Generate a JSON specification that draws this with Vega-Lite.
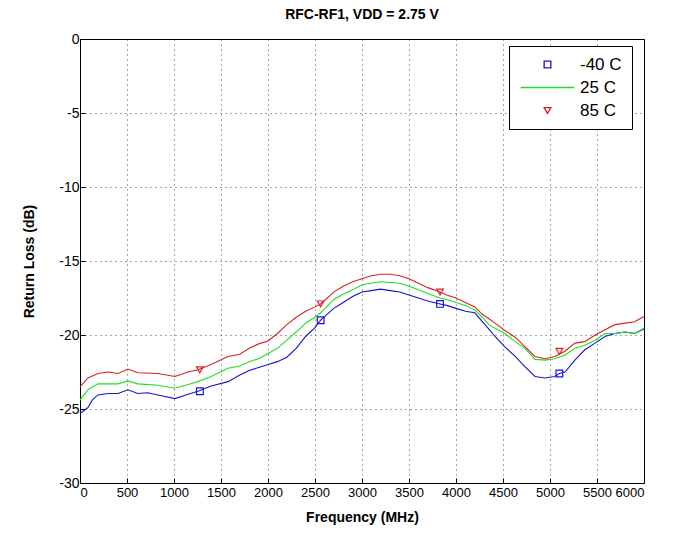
{
  "$schema": "https://vega.github.io/schema/vega-lite/v6.json",
  "width": 564,
  "height": 444,
  "autosize": "none",
  "padding": {"left": 80, "top": 39, "right": 38, "bottom": 55},
  "background": "white",
  "title": {"text": "RFC-RF1, VDD = 2.75 V", "font": "Liberation Sans", "fontSize": 14, "fontWeight": "bold", "color": "#000", "offset": 10},
  "config": {
    "view": {"stroke": "#000", "strokeWidth": 1},
    "axis": {
      "labelFont": "Liberation Sans", "labelFontSize": 14, "labelColor": "#000",
      "titleFont": "Liberation Sans", "titleFontSize": 14, "titleFontWeight": "bold", "titleColor": "#000",
      "grid": true, "gridColor": "#000", "gridDash": [1, 4], "gridOpacity": 0.7, "gridWidth": 1,
      "domain": false, "tickColor": "#000", "tickSize": -5, "labelPadding": 6, "labelOverlap": false
    },
    "legend": {
      "orient": "none", "legendX": 429, "legendY": 7, "strokeColor": "#000", "fillColor": "white",
      "padding": 10, "labelFont": "Liberation Sans", "labelFontSize": 17, "labelColor": "#000",
      "rowPadding": 5, "symbolOffset": 20, "labelOffset": 24, "title": null, "symbolStrokeWidth": 1.3, "symbolSize": 45
    }
  },
  "datasets": {
    "curves": [
      {"s": "-40 C", "f": 0, "rl": -25.3}, {"s": "-40 C", "f": 85, "rl": -24.9}, {"s": "-40 C", "f": 130, "rl": -24.4}, {"s": "-40 C", "f": 190, "rl": -24.05}, {"s": "-40 C", "f": 300, "rl": -23.95}, {"s": "-40 C", "f": 405, "rl": -23.95}, {"s": "-40 C", "f": 510, "rl": -23.7}, {"s": "-40 C", "f": 615, "rl": -23.95}, {"s": "-40 C", "f": 720, "rl": -23.9}, {"s": "-40 C", "f": 830, "rl": -24.05}, {"s": "-40 C", "f": 1010, "rl": -24.3}, {"s": "-40 C", "f": 1150, "rl": -24.0}, {"s": "-40 C", "f": 1255, "rl": -23.8}, {"s": "-40 C", "f": 1395, "rl": -23.45}, {"s": "-40 C", "f": 1575, "rl": -23.15}, {"s": "-40 C", "f": 1700, "rl": -22.7}, {"s": "-40 C", "f": 1800, "rl": -22.4}, {"s": "-40 C", "f": 1900, "rl": -22.2}, {"s": "-40 C", "f": 2000, "rl": -22.0}, {"s": "-40 C", "f": 2100, "rl": -21.8}, {"s": "-40 C", "f": 2200, "rl": -21.5}, {"s": "-40 C", "f": 2300, "rl": -20.9}, {"s": "-40 C", "f": 2400, "rl": -20.1}, {"s": "-40 C", "f": 2500, "rl": -19.5}, {"s": "-40 C", "f": 2560, "rl": -19.0}, {"s": "-40 C", "f": 2700, "rl": -18.2}, {"s": "-40 C", "f": 2800, "rl": -17.8}, {"s": "-40 C", "f": 2900, "rl": -17.4}, {"s": "-40 C", "f": 3000, "rl": -17.1}, {"s": "-40 C", "f": 3100, "rl": -17.0}, {"s": "-40 C", "f": 3200, "rl": -16.9}, {"s": "-40 C", "f": 3300, "rl": -17.0}, {"s": "-40 C", "f": 3400, "rl": -17.1}, {"s": "-40 C", "f": 3500, "rl": -17.3}, {"s": "-40 C", "f": 3600, "rl": -17.5}, {"s": "-40 C", "f": 3700, "rl": -17.7}, {"s": "-40 C", "f": 3830, "rl": -17.9}, {"s": "-40 C", "f": 3900, "rl": -18.0}, {"s": "-40 C", "f": 4000, "rl": -18.2}, {"s": "-40 C", "f": 4100, "rl": -18.4}, {"s": "-40 C", "f": 4200, "rl": -18.5}, {"s": "-40 C", "f": 4280, "rl": -19.1}, {"s": "-40 C", "f": 4350, "rl": -19.6}, {"s": "-40 C", "f": 4415, "rl": -20.1}, {"s": "-40 C", "f": 4520, "rl": -20.8}, {"s": "-40 C", "f": 4630, "rl": -21.45}, {"s": "-40 C", "f": 4735, "rl": -22.15}, {"s": "-40 C", "f": 4840, "rl": -22.8}, {"s": "-40 C", "f": 4945, "rl": -22.9}, {"s": "-40 C", "f": 5050, "rl": -22.8}, {"s": "-40 C", "f": 5100, "rl": -22.6}, {"s": "-40 C", "f": 5160, "rl": -22.5}, {"s": "-40 C", "f": 5265, "rl": -21.7}, {"s": "-40 C", "f": 5370, "rl": -21.0}, {"s": "-40 C", "f": 5480, "rl": -20.55}, {"s": "-40 C", "f": 5585, "rl": -20.1}, {"s": "-40 C", "f": 5690, "rl": -19.9}, {"s": "-40 C", "f": 5800, "rl": -19.8}, {"s": "-40 C", "f": 5900, "rl": -19.9}, {"s": "-40 C", "f": 6000, "rl": -19.6},
      {"s": "25 C", "f": 0, "rl": -24.4}, {"s": "25 C", "f": 85, "rl": -23.7}, {"s": "25 C", "f": 190, "rl": -23.3}, {"s": "25 C", "f": 300, "rl": -23.3}, {"s": "25 C", "f": 405, "rl": -23.3}, {"s": "25 C", "f": 510, "rl": -23.1}, {"s": "25 C", "f": 615, "rl": -23.3}, {"s": "25 C", "f": 830, "rl": -23.4}, {"s": "25 C", "f": 1010, "rl": -23.6}, {"s": "25 C", "f": 1150, "rl": -23.35}, {"s": "25 C", "f": 1255, "rl": -23.15}, {"s": "25 C", "f": 1395, "rl": -22.8}, {"s": "25 C", "f": 1575, "rl": -22.25}, {"s": "25 C", "f": 1700, "rl": -22.1}, {"s": "25 C", "f": 1800, "rl": -21.8}, {"s": "25 C", "f": 1900, "rl": -21.6}, {"s": "25 C", "f": 2000, "rl": -21.25}, {"s": "25 C", "f": 2100, "rl": -20.9}, {"s": "25 C", "f": 2200, "rl": -20.35}, {"s": "25 C", "f": 2300, "rl": -19.8}, {"s": "25 C", "f": 2400, "rl": -19.2}, {"s": "25 C", "f": 2500, "rl": -18.8}, {"s": "25 C", "f": 2560, "rl": -18.5}, {"s": "25 C", "f": 2700, "rl": -17.6}, {"s": "25 C", "f": 2800, "rl": -17.25}, {"s": "25 C", "f": 2900, "rl": -16.95}, {"s": "25 C", "f": 3000, "rl": -16.6}, {"s": "25 C", "f": 3100, "rl": -16.5}, {"s": "25 C", "f": 3200, "rl": -16.4}, {"s": "25 C", "f": 3300, "rl": -16.45}, {"s": "25 C", "f": 3400, "rl": -16.5}, {"s": "25 C", "f": 3500, "rl": -16.7}, {"s": "25 C", "f": 3600, "rl": -16.95}, {"s": "25 C", "f": 3700, "rl": -17.2}, {"s": "25 C", "f": 3830, "rl": -17.5}, {"s": "25 C", "f": 3900, "rl": -17.6}, {"s": "25 C", "f": 4000, "rl": -17.8}, {"s": "25 C", "f": 4100, "rl": -18.0}, {"s": "25 C", "f": 4200, "rl": -18.3}, {"s": "25 C", "f": 4280, "rl": -18.8}, {"s": "25 C", "f": 4350, "rl": -19.3}, {"s": "25 C", "f": 4415, "rl": -19.55}, {"s": "25 C", "f": 4520, "rl": -19.9}, {"s": "25 C", "f": 4630, "rl": -20.45}, {"s": "25 C", "f": 4735, "rl": -20.9}, {"s": "25 C", "f": 4840, "rl": -21.65}, {"s": "25 C", "f": 4945, "rl": -21.7}, {"s": "25 C", "f": 5050, "rl": -21.6}, {"s": "25 C", "f": 5160, "rl": -21.35}, {"s": "25 C", "f": 5265, "rl": -20.9}, {"s": "25 C", "f": 5370, "rl": -20.7}, {"s": "25 C", "f": 5480, "rl": -20.35}, {"s": "25 C", "f": 5585, "rl": -19.9}, {"s": "25 C", "f": 5690, "rl": -19.9}, {"s": "25 C", "f": 5800, "rl": -19.8}, {"s": "25 C", "f": 5900, "rl": -19.9}, {"s": "25 C", "f": 6000, "rl": -19.55},
      {"s": "85 C", "f": 0, "rl": -23.5}, {"s": "85 C", "f": 85, "rl": -22.9}, {"s": "85 C", "f": 190, "rl": -22.6}, {"s": "85 C", "f": 300, "rl": -22.5}, {"s": "85 C", "f": 405, "rl": -22.6}, {"s": "85 C", "f": 510, "rl": -22.3}, {"s": "85 C", "f": 615, "rl": -22.55}, {"s": "85 C", "f": 830, "rl": -22.6}, {"s": "85 C", "f": 1010, "rl": -22.8}, {"s": "85 C", "f": 1150, "rl": -22.5}, {"s": "85 C", "f": 1255, "rl": -22.35}, {"s": "85 C", "f": 1395, "rl": -22.0}, {"s": "85 C", "f": 1575, "rl": -21.45}, {"s": "85 C", "f": 1700, "rl": -21.3}, {"s": "85 C", "f": 1800, "rl": -20.9}, {"s": "85 C", "f": 1900, "rl": -20.6}, {"s": "85 C", "f": 2000, "rl": -20.4}, {"s": "85 C", "f": 2100, "rl": -19.9}, {"s": "85 C", "f": 2200, "rl": -19.3}, {"s": "85 C", "f": 2300, "rl": -18.8}, {"s": "85 C", "f": 2400, "rl": -18.4}, {"s": "85 C", "f": 2500, "rl": -18.1}, {"s": "85 C", "f": 2560, "rl": -17.9}, {"s": "85 C", "f": 2700, "rl": -17.1}, {"s": "85 C", "f": 2800, "rl": -16.7}, {"s": "85 C", "f": 2900, "rl": -16.4}, {"s": "85 C", "f": 3000, "rl": -16.2}, {"s": "85 C", "f": 3100, "rl": -16.0}, {"s": "85 C", "f": 3200, "rl": -15.9}, {"s": "85 C", "f": 3300, "rl": -15.9}, {"s": "85 C", "f": 3400, "rl": -16.0}, {"s": "85 C", "f": 3500, "rl": -16.2}, {"s": "85 C", "f": 3600, "rl": -16.5}, {"s": "85 C", "f": 3700, "rl": -16.8}, {"s": "85 C", "f": 3830, "rl": -17.1}, {"s": "85 C", "f": 3900, "rl": -17.3}, {"s": "85 C", "f": 4000, "rl": -17.5}, {"s": "85 C", "f": 4100, "rl": -17.8}, {"s": "85 C", "f": 4200, "rl": -18.1}, {"s": "85 C", "f": 4280, "rl": -18.6}, {"s": "85 C", "f": 4350, "rl": -18.9}, {"s": "85 C", "f": 4415, "rl": -19.2}, {"s": "85 C", "f": 4520, "rl": -19.7}, {"s": "85 C", "f": 4630, "rl": -20.15}, {"s": "85 C", "f": 4735, "rl": -20.8}, {"s": "85 C", "f": 4840, "rl": -21.45}, {"s": "85 C", "f": 4945, "rl": -21.6}, {"s": "85 C", "f": 5050, "rl": -21.45}, {"s": "85 C", "f": 5160, "rl": -21.1}, {"s": "85 C", "f": 5265, "rl": -20.55}, {"s": "85 C", "f": 5370, "rl": -20.45}, {"s": "85 C", "f": 5480, "rl": -20.0}, {"s": "85 C", "f": 5585, "rl": -19.65}, {"s": "85 C", "f": 5690, "rl": -19.3}, {"s": "85 C", "f": 5800, "rl": -19.2}, {"s": "85 C", "f": 5900, "rl": -19.1}, {"s": "85 C", "f": 6000, "rl": -18.75}
    ],
    "markers": [
      {"s": "-40 C", "f": 1275, "rl": -23.8}, {"s": "-40 C", "f": 2560, "rl": -19.0}, {"s": "-40 C", "f": 3830, "rl": -17.9}, {"s": "-40 C", "f": 5100, "rl": -22.6},
      {"s": "85 C", "f": 1275, "rl": -22.35}, {"s": "85 C", "f": 2560, "rl": -17.9}, {"s": "85 C", "f": 3830, "rl": -17.1}, {"s": "85 C", "f": 5100, "rl": -21.1}
    ]
  },
  "encoding": {
    "x": {"field": "f", "type": "quantitative", "title": "Frequency (MHz)",
      "scale": {"domain": [0, 6000], "nice": false, "zero": false},
      "axis": {"values": [0, 500, 1000, 1500, 2000, 2500, 3000, 3500, 4000, 4500, 5000, 5500, 6000], "format": "d", "titlePadding": 11, "labelFontSize": 13, "labelPadding": 8}},
    "y": {"field": "rl", "type": "quantitative", "title": "Return Loss (dB)",
      "scale": {"domain": [-30, 0], "nice": false, "zero": false},
      "axis": {"values": [-30, -25, -20, -15, -10, -5, 0], "labelExpr": "'' + datum.value", "titlePadding": 22}}
  },
  "layer": [
    {
      "data": {"name": "curves"},
      "mark": {"type": "line", "strokeWidth": 1.1, "interpolate": "linear"},
      "encoding": {
        "color": {"field": "s", "type": "nominal",
          "scale": {"domain": ["-40 C", "25 C", "85 C"], "range": ["#1515d0", "#22dd22", "#dd2020"]}}
      }
    },
    {
      "data": {"name": "markers"},
      "mark": {"type": "point", "filled": false, "strokeWidth": 1.2, "opacity": 1, "size": 45},
      "encoding": {
        "color": {"field": "s", "type": "nominal",
          "scale": {"domain": ["-40 C", "25 C", "85 C"], "range": ["#1515d0", "#22dd22", "#dd2020"]},
          "legend": {"encode": {"symbols": {"update": {"stroke": {"signal": "scale('color', datum.value)"}, "fill": {"value": "transparent"}, "opacity": {"value": 1}}}}}},
        "shape": {"field": "s", "type": "nominal",
          "scale": {"domain": ["-40 C", "25 C", "85 C"], "range": ["square", "M-8,0H8", "triangle-down"]}}
      }
    }
  ]
}
